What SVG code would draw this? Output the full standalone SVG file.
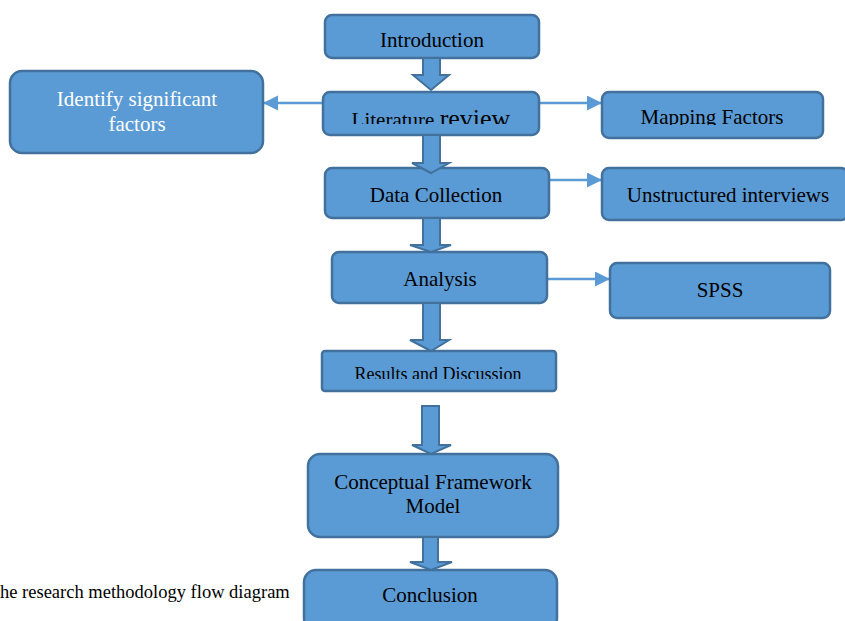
<svg xmlns="http://www.w3.org/2000/svg" width="845" height="621" viewBox="0 0 845 621">
<style>
.box{fill:#5b9bd5;stroke:#41719c;stroke-width:2.5}
.blk{fill:#5b9bd5;stroke:#41719c;stroke-width:2}
.con{stroke:#5b9bd5;stroke-width:2.5;fill:none}
text{font-family:"Liberation Serif","Times New Roman",serif;font-size:21px;fill:#000;text-anchor:middle}
.w{fill:#fff}
</style>
<defs>
<marker id="ah" markerUnits="userSpaceOnUse" markerWidth="16" markerHeight="16" refX="15" refY="7.5" orient="auto">
<path d="M0,0 L15,7.5 L0,15 Z" fill="#5b9bd5"/>
</marker>
<clipPath id="cLit"><rect x="300" y="90" width="260" height="34"/></clipPath>
<clipPath id="cMap"><rect x="600" y="90" width="230" height="35"/></clipPath>
<clipPath id="cRes"><rect x="300" y="350" width="270" height="29"/></clipPath>
</defs>
<rect width="845" height="621" fill="#fff"/>
<g id="connectors">
<line class="con" x1="323" y1="103" x2="263" y2="103" marker-end="url(#ah)"/>
<line class="con" x1="539" y1="103" x2="602" y2="103" marker-end="url(#ah)"/>
<line class="con" x1="549" y1="180" x2="602" y2="180" marker-end="url(#ah)"/>
<line class="con" x1="547" y1="279" x2="610" y2="279" marker-end="url(#ah)"/>
</g>
<g id="n-intro"><rect class="box" x="325" y="15" width="214" height="43" rx="7"/><text x="432" y="47">Introduction</text></g>
<g id="n-lit"><rect class="box" x="323" y="92" width="216" height="43" rx="7"/><text x="431" y="127" clip-path="url(#cLit)">Literature <tspan style="font-size:26px">review</tspan></text></g>
<g id="n-identify"><rect class="box" x="10" y="71" width="253" height="82" rx="12"/><text class="w" x="137" y="106">Identify significant</text><text class="w" x="137" y="131">factors</text></g>
<g id="n-mapping"><rect class="box" x="602" y="92" width="221" height="46" rx="7"/><text x="712" y="124" clip-path="url(#cMap)">Mapping Factors</text></g>
<g id="n-data"><rect class="box" x="325" y="168" width="224" height="50" rx="7"/><text x="436" y="202">Data Collection</text></g>
<g id="n-unstructured"><rect class="box" x="602" y="168" width="246" height="52" rx="7"/><text x="728" y="202">Unstructured interviews</text></g>
<g id="n-analysis"><rect class="box" x="332" y="252" width="215" height="51" rx="7"/><text x="440" y="286">Analysis</text></g>
<g id="n-spss"><rect class="box" x="610" y="263" width="220" height="55" rx="7"/><text x="720" y="297">SPSS</text></g>
<g id="n-results"><rect class="box" x="322" y="351" width="234" height="40" rx="3"/><text x="438" y="380" style="font-size:18px" clip-path="url(#cRes)">Results and Discussion</text></g>
<g id="n-conceptual"><rect class="box" x="308" y="454" width="250" height="83" rx="12"/><text x="433" y="489">Conceptual Framework</text><text x="433" y="513">Model</text></g>
<g id="n-conclusion"><rect class="box" x="304" y="570" width="253" height="60" rx="12"/><text x="430" y="602">Conclusion</text></g>
<g id="block-arrows">
<polygon class="blk" points="423,58 440,58 440,75 449,75 431,90 413,75 423,75"/>
<polygon class="blk" points="423,135 440,135 440,163 449,163 431,173 412,163 423,163"/>
<polygon class="blk" points="423,218 440,218 440,245 451,245 431,252 410,245 423,245"/>
<polygon class="blk" points="423,303 440,303 440,340 449,340 431,351 410,340 423,340"/>
<polygon class="blk" points="422,406 439,406 439,445 451,445 431,454 412,445 422,445"/>
<polygon class="blk" points="423,537 438,537 438,562 452,562 431,570 410,562 423,562"/>
</g>
<text x="0" y="598" style="font-size:18.5px;text-anchor:start">he research methodology flow diagram</text>
</svg>
